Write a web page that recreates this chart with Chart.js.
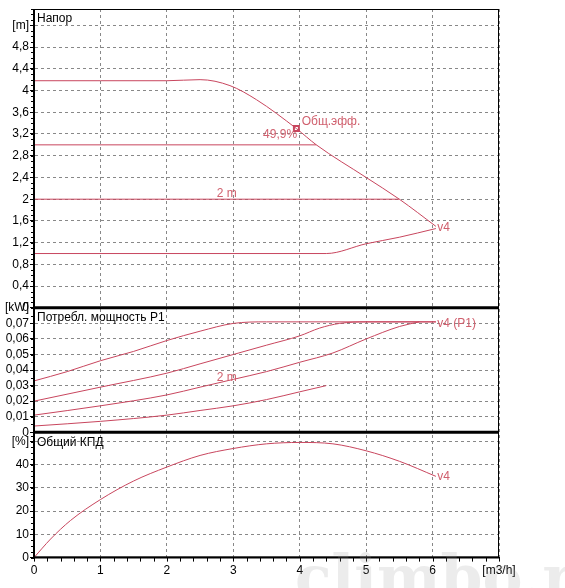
<!DOCTYPE html>
<html><head><meta charset="utf-8">
<script src="https://cdn.jsdelivr.net/npm/chart.js@4"></script>
<style>body{margin:0;background:#fff}#w{position:relative;width:565px;height:588px}</style>
</head><body><div id="w"><canvas id="c" width="565" height="588"></canvas></div>
<script>
// Head (m)
const headMaxX=[0,1,2,2.5,2.95,3.35,3.95,4.25,5,5.5,6.05];
const headMaxY=[4.18,4.18,4.18,4.2,4.09,3.83,3.3,3.0,2.4,2.0,1.5];
const headMinX=[0,4.4,5,5.5,6.05];
const headMinY=[1.0,1.0,1.18,1.3,1.46];
const head3mX=[0,4.25];const head3mY=[3.0,3.0];
const head2mX=[0,5.5];const head2mY=[2.0,2.0];
const dutyX=[3.95];const dutyY=[3.3];
// Power P1 (kW)
const pX1=[0,0.5,1,1.5,2,2.5,3,3.5,4,5,6.05];
const pY1=[0.033,0.039,0.046,0.052,0.059,0.065,0.070,0.071,0.071,0.071,0.071];
const pX2=[0,1,2,2.5,3,3.5,4,4.3,4.6,5,6.05];
const pY2=[0.020,0.029,0.038,0.044,0.050,0.056,0.062,0.067,0.070,0.071,0.071];
const pX3=[0,1,2,2.5,3,3.5,4,4.5,5,5.5,5.8];
const pY3=[0.011,0.017,0.024,0.029,0.034,0.039,0.045,0.051,0.060,0.068,0.071];
const pX4=[0,1,2,2.5,3,3.5,4,4.4];
const pY4=[0.004,0.007,0.011,0.014,0.017,0.021,0.026,0.030];
// Efficiency (%)
const eX=[0,0.25,0.55,1,1.5,2,2.5,3,3.5,4,4.5,5,5.5,6.05];
const eY=[0,8,16,25,33,39,44,47,49,49.6,49,46,41.5,35];
// Labels
const panelTitles=["Напор","Потребл. мощность P1","Общий КПД"];
const notes=[["Общ.эфф.",4.03,3.42,"yH","left"],["49,9%",3.96,3.18,"yH","right"],["2 m",2.9,2.1,"yH","center"],["v4",6.07,1.48,"yH","left"],
["2 m",2.9,0.035,"yP","center"],["v4 (P1)",6.07,0.07,"yP","left"],["v4",6.07,35,"yE","left"]];

const red='#c8465e', txt='#d0606e';
const pts=(xs,ys)=>xs.map((x,i)=>({x,y:ys[i]}));
const ds=(xs,ys,ax,extra)=>Object.assign({data:pts(xs,ys),yAxisID:ax,borderColor:red,borderWidth:1,pointRadius:0,tension:0.35,cubicInterpolationMode:'monotone'},extra||{});
const font={family:'Liberation Sans, Arial',size:12};
const yb=(min,max,step,top,topLabel,weight,fmt)=>({type:'linear',position:'left',stack:'s',stackWeight:weight,min,max,
 afterBuildTicks:a=>{const t=[];for(let v=min;v<=top+1e-9;v+=step)t.push({value:+v.toFixed(4)});a.ticks=t;},
 afterFit:a=>{a.width=34;},
 ticks:{color:'#000',font,padding:1,autoSkip:false,callback:v=>Math.abs(v-top)<1e-6?topLabel:fmt(v)},
 grid:{color:'#888',tickColor:'#000',tickLength:4},border:{display:true,color:'#000',dash:[3,3]}});
const comma=v=>(''+(+v.toFixed(2))).replace('.',',');

const plug={id:'p',
 afterDraw(c){const g=c.ctx,a=c.chartArea,s=c.scales;g.save();
  g.strokeStyle='#000';g.lineWidth=1;g.strokeRect(a.left+0.5,a.top+0.5,a.width-1,a.height-1);
  g.lineWidth=3;[s.yP.bottom,s.yH.bottom].forEach(y=>{g.beginPath();g.moveTo(a.left,y);g.lineTo(a.right,y);g.stroke();});
  g.lineWidth=2;g.beginPath();g.moveTo(a.left,a.top);g.lineTo(a.left,a.bottom);g.stroke();
  g.beginPath();g.moveTo(a.left,a.bottom);g.lineTo(a.right,a.bottom);g.stroke();
  g.lineWidth=1;
  const minor=(sc,st)=>{for(let v=sc.min;v<=sc.max+1e-9;v+=st){const y=Math.round(sc.getPixelForValue(v))+0.5;g.beginPath();g.moveTo(a.left-3,y);g.lineTo(a.left,y);g.stroke();}};
  minor(s.yH,0.1);minor(s.yP,0.005);minor(s.yE,2.5);
  for(let v=0;v<=7.001;v+=0.2){const x=Math.round(s.x.getPixelForValue(v))+0.5;g.beginPath();g.moveTo(x,a.bottom);g.lineTo(x,a.bottom+4);g.stroke();}
  g.font='12px Liberation Sans, Arial';g.fillStyle='#000';g.textBaseline='top';g.textAlign='left';
  [s.yH,s.yP,s.yE].forEach((sc,i)=>g.fillText(panelTitles[i],a.left+3,sc.top+4));
  g.fillStyle=txt;g.textBaseline='middle';
  notes.forEach(n=>{g.textAlign=n[4];g.fillText(n[0],s.x.getPixelForValue(n[1]),s[n[3]].getPixelForValue(n[2]));});
  g.font='bold 60px DejaVu Serif';g.fillStyle='rgba(150,150,150,0.18)';g.textAlign='left';g.textBaseline='alphabetic';
  g.fillText('climbo.ru',295,598);
  g.restore();}};

new Chart(document.getElementById('c'),{type:'line',
 data:{datasets:[
  ds(eX,eY,'yE'),
  ds(pX1,pY1,'yP'),ds(pX2,pY2,'yP'),ds(pX3,pY3,'yP'),ds(pX4,pY4,'yP'),
  ds(headMaxX,headMaxY,'yH'),ds(headMinX,headMinY,'yH'),ds(head3mX,head3mY,'yH',{tension:0}),ds(head2mX,head2mY,'yH',{tension:0}),
  ds(dutyX,dutyY,'yH',{showLine:false,pointRadius:3.5,pointStyle:'rect',pointBorderColor:red,pointBorderWidth:2,pointBackgroundColor:'#fff'})
 ]},
 options:{responsive:false,animation:false,plugins:{legend:{display:false},tooltip:{enabled:false}},
  layout:{padding:{top:9,right:66,left:0,bottom:4}},
  scales:{
   x:{type:'linear',min:0,max:7,afterBuildTicks:a=>{a.ticks=[0,1,2,3,4,5,6,7].map(v=>({value:v}));},
    ticks:{color:'#000',font,padding:6,autoSkip:false,maxRotation:0,callback:v=>v===7?'[m3/h]':''+v},grid:{color:'#888',tickLength:0},border:{color:'#000',dash:[3,3]}},
   yE:yb(0,54,10,50,'[%]',125,v=>''+v),
   yP:yb(0,0.08,0.01,0.08,'[kW]',124,comma),
   yH:yb(0,5.5,0.4,5.2,'[m]',298,comma)
  }},
 plugins:[plug]
});
</script></body></html>
